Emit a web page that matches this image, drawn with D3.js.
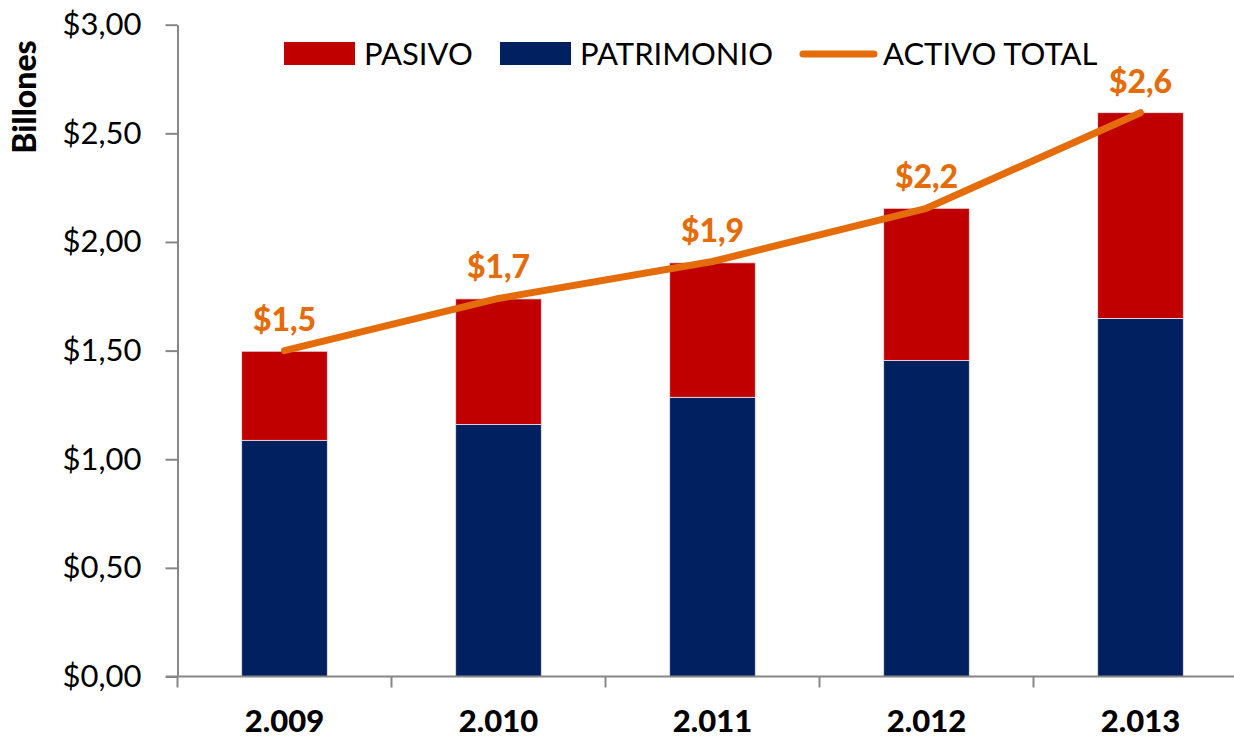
<!DOCTYPE html>
<html>
<head>
<meta charset="utf-8">
<script src="https://cdn.jsdelivr.net/npm/d3@7"></script>
<style>
  body { margin: 0; background: #fff; }
  text { font-family: Lato, "Open Sans", sans-serif; fill: #000; }
</style>
</head>
<body>
<div id="chart"></div>
<script>
// valores en billones
const years = ['2.009', '2.010', '2.011', '2.012', '2.013'];
const patrimonio = [1.087, 1.160, 1.285, 1.455, 1.648];
const pasivo = [0.410, 0.578, 0.619, 0.700, 0.947];
const activoTotal = [1.50, 1.74, 1.91, 2.155, 2.595];
const yTicks = [0, 0.5, 1, 1.5, 2, 2.5, 3];

const chartWidth = 1234;
const chartHeight = 739;
const plotLeft = 177.5;
const plotTop = 24.7;
const plotBottom = 676.5;
const step = 214;

const fmtMoney = d => '$' + d.toFixed(2).replace('.', ',');
const fmtLabel = d => '$' + d.toFixed(1).replace('.', ',');

const svg = d3.select('#chart')
  .append('svg')
  .attr('width', chartWidth)
  .attr('height', chartHeight);

const y = d3.scaleLinear()
  .domain([0, 3])
  .range([plotBottom, plotTop]);

// banda completa por año (para las marcas del eje)
const xOuter = d3.scaleBand()
  .domain(years)
  .range([plotLeft, plotLeft + step * years.length])
  .padding(0);

// barras
const x = d3.scaleBand()
  .domain(years)
  .range([plotLeft, plotLeft + step * years.length])
  .paddingInner(0.6)
  .paddingOuter(0.3);

const stacked = years.map((yr, i) => ({
  year: yr,
  patrimonio: patrimonio[i],
  pasivo: pasivo[i]
}));
const series = d3.stack().keys(['patrimonio', 'pasivo'])(stacked);
const colors = { patrimonio: '#002060', pasivo: '#C00000' };

svg.append('g')
  .selectAll('g')
  .data(series)
  .enter()
  .append('g')
  .attr('fill', d => colors[d.key])
  .selectAll('rect')
  .data(d => d)
  .enter()
  .append('rect')
  .attr('x', d => x(d.data.year))
  .attr('y', d => y(d[1]))
  .attr('width', x.bandwidth())
  .attr('height', d => y(d[0]) - y(d[1]))
  .attr('stroke', '#e6e6ee')
  .attr('stroke-width', 0.8);

// eje Y
const yAxis = svg.append('g')
  .attr('transform', `translate(${plotLeft},0)`)
  .call(d3.axisLeft(y).tickValues(yTicks).tickFormat(fmtMoney).tickSize(12).tickPadding(24).tickSizeOuter(0));
yAxis.select('.domain').attr('stroke', '#868686').attr('stroke-width', 2);
yAxis.selectAll('.tick line').attr('stroke', '#868686').attr('stroke-width', 2);
yAxis.selectAll('.tick text')
  .style('font-size', '31px')
  .attr('fill', '#000');

// eje X
svg.append('line')
  .attr('x1', 166).attr('x2', chartWidth)
  .attr('y1', y(0)).attr('y2', y(0))
  .attr('stroke', '#868686').attr('stroke-width', 2);

const xAxis = svg.append('g')
  .attr('transform', `translate(0,${y(0)})`)
  .call(d3.axisBottom(xOuter).tickSize(0).tickPadding(33));
xAxis.select('.domain').remove();
xAxis.selectAll('.tick text')
  .style('font-size', '31px')
  .style('font-weight', '900')
  .attr('fill', '#000');

svg.append('g')
  .selectAll('line')
  .data(years.concat(['end']))
  .enter()
  .append('line')
  .attr('x1', (d, i) => plotLeft + xOuter.step() * i)
  .attr('x2', (d, i) => plotLeft + xOuter.step() * i)
  .attr('y1', y(0))
  .attr('y2', y(0) + 11)
  .attr('stroke', '#868686')
  .attr('stroke-width', 2);

// título eje Y
svg.append('text')
  .attr('transform', `translate(36,${97}) rotate(-90)`)
  .attr('text-anchor', 'middle')
  .style('font-size', '32px')
  .style('font-weight', '900')
  .text('Billones');

// línea activo total
const orange = '#E46C0A';
const line = d3.line()
  .x((d, i) => x(years[i]) + x.bandwidth() / 2)
  .y(d => y(d));

svg.append('path')
  .datum(activoTotal)
  .attr('d', line)
  .attr('fill', 'none')
  .attr('stroke', orange)
  .attr('stroke-width', 7)
  .attr('stroke-linecap', 'round')
  .attr('stroke-linejoin', 'round');

svg.append('g')
  .selectAll('text')
  .data(activoTotal)
  .enter()
  .append('text')
  .attr('x', (d, i) => x(years[i]) + x.bandwidth() / 2)
  .attr('y', d => y(d) - 20)
  .attr('text-anchor', 'middle')
  .style('font-size', '32px')
  .style('font-weight', '900')
  .style('fill', orange)
  .text(fmtLabel);

// leyenda
const legend = svg.append('g');
const legendItems = [
  { name: 'PASIVO', color: '#C00000', type: 'rect', x: 284 },
  { name: 'PATRIMONIO', color: '#002060', type: 'rect', x: 500 },
  { name: 'ACTIVO TOTAL', color: orange, type: 'line', x: 803 }
];
legendItems.forEach(it => {
  if (it.type === 'rect') {
    legend.append('rect')
      .attr('x', it.x).attr('y', 42)
      .attr('width', 71).attr('height', 23)
      .attr('fill', it.color);
  } else {
    legend.append('line')
      .attr('x1', it.x).attr('x2', it.x + 71)
      .attr('y1', 54).attr('y2', 54)
      .attr('stroke', it.color)
      .attr('stroke-width', 7)
      .attr('stroke-linecap', 'round');
  }
  legend.append('text')
    .attr('x', it.x + 80)
    .attr('y', 65)
    .style('font-size', '31px')
    .text(it.name);
});
</script>
</body>
</html>
